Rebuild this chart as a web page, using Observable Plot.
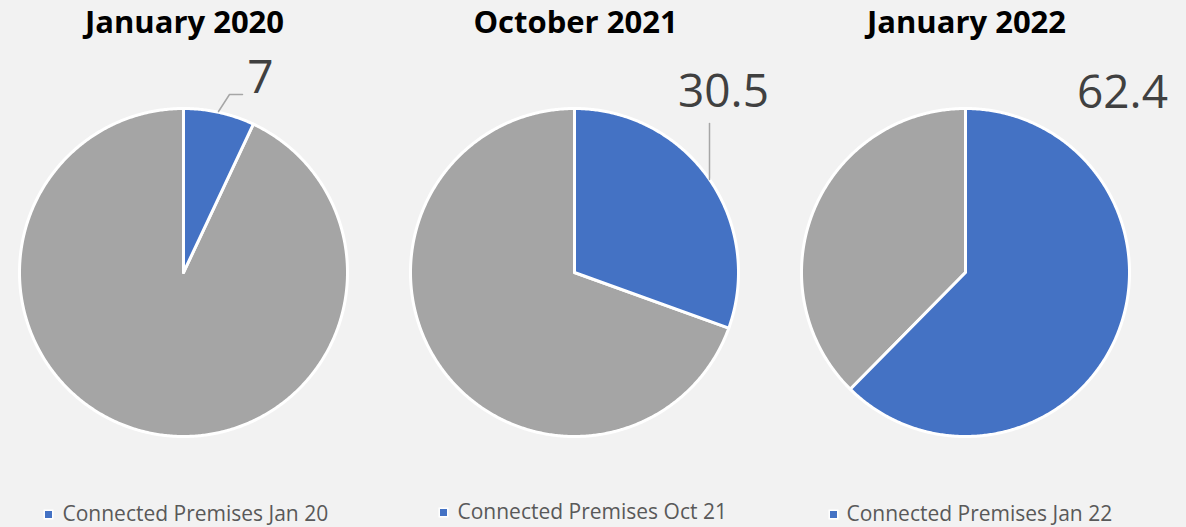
<!DOCTYPE html>
<html><head><meta charset="utf-8">
<script src="https://cdn.jsdelivr.net/npm/d3@7"></script>
<script src="https://cdn.jsdelivr.net/npm/@observablehq/plot@0.6"></script>
<style>html,body{margin:0;padding:0;background:#f2f2f2;overflow:hidden}#chart{width:1186px;height:527px}</style>
</head><body><div id="chart"></div>
<script>
// ---- data ----
const periods = ["January 2020", "October 2021", "January 2022"];
const connected = [7, 30.5, 62.4];
const valueLabels = ["7", "30.5", "62.4"];
const legendLabels = ["Connected Premises Jan 20", "Connected Premises Oct 21", "Connected Premises Jan 22"];

// ---- layout (pixels, relative to each pie centre) ----
const W = 1186, H = 527, R = 164, bandW = 391, cxPx = 183, cyPx = 272;
const u = px => px / R;
const labelPos = [[77, -194], [149, -180], [157, -179]];
const leaderPx = [[[35, -161], [46, -178], [59, -178]], [[135, -93], [135, -149]], []];
const legendDot = [-135, -131, -132];
const legendText = [-121, -117, -119];
const legendY = [242, 240, 242];

const blue = "#4472c4", gray = "#a5a5a5";

// slice polygons from d3.pie angles
const slices = [];
periods.forEach((p, i) => {
  const vals = [{key: "connected", v: connected[i]}, {key: "other", v: 100 - connected[i]}];
  d3.pie().sort(null).value(d => d.v)(vals).forEach(a => {
    const n = Math.max(2, Math.ceil((a.endAngle - a.startAngle) / (Math.PI / 360)));
    const pts = [{x: 0, y: 0}];
    for (let k = 0; k <= n; k++) {
      const t = a.startAngle + (a.endAngle - a.startAngle) * k / n;
      pts.push({x: Math.sin(t), y: Math.cos(t)});
    }
    pts.push({x: 0, y: 0});
    pts.forEach(pt => slices.push({period: p, slice: p + a.data.key, key: a.data.key, ...pt}));
  });
});

const leaders = [];
periods.forEach((p, i) => leaderPx[i].forEach(([dx, dy]) => leaders.push({period: p, x: u(dx), y: -u(dy)})));

const idx = periods.map((p, i) => i);

const chart = Plot.plot({
  width: W, height: H,
  marginTop: 0, marginBottom: 0, marginLeft: 0, marginRight: W - 3 * bandW,
  style: {background: "#f2f2f2", fontFamily: "Open Sans, sans-serif", overflow: "visible"},
  fx: {domain: periods, padding: 0, axis: null},
  x: {domain: [u(-cxPx), u(bandW - cxPx)], axis: null},
  y: {domain: [u(cyPx - H), u(cyPx)], axis: null},
  marks: [
    Plot.line(slices.filter(d => d.key === "other"), {fx: "period", x: "x", y: "y", z: "slice", fill: gray, stroke: "white", strokeWidth: 3, strokeLinejoin: "round", curve: "linear"}),
    Plot.line(slices.filter(d => d.key === "connected"), {fx: "period", x: "x", y: "y", z: "slice", fill: blue, stroke: "white", strokeWidth: 3, strokeLinejoin: "round", curve: "linear"}),
    Plot.line(leaders, {fx: "period", x: "x", y: "y", stroke: "#a6a6a6", strokeWidth: 1.5}),
    Plot.text(idx, {fx: i => periods[i], x: () => u(1), y: () => u(249), text: i => periods[i], fontSize: 31, fontWeight: "bold", fill: "#000", textAnchor: "middle", lineAnchor: "middle"}),
    Plot.text(idx, {fx: i => periods[i], x: i => u(labelPos[i][0]), y: i => -u(labelPos[i][1]), text: i => valueLabels[i], fontSize: 46, fill: "#404040", textAnchor: "middle", lineAnchor: "middle"}),
    Plot.dot(idx, {fx: i => periods[i], x: i => u(legendDot[i]), y: i => -u(legendY[i]), symbol: "square", r: 4.8, fill: blue, stroke: "white", strokeWidth: 1.5}),
    Plot.text(idx, {fx: i => periods[i], x: i => u(legendText[i]), y: i => -u(legendY[i]), text: i => legendLabels[i], fontSize: 21, fill: "#595959", textAnchor: "start", lineAnchor: "middle"})
  ]
});
document.getElementById("chart").appendChild(chart);
</script></body></html>
